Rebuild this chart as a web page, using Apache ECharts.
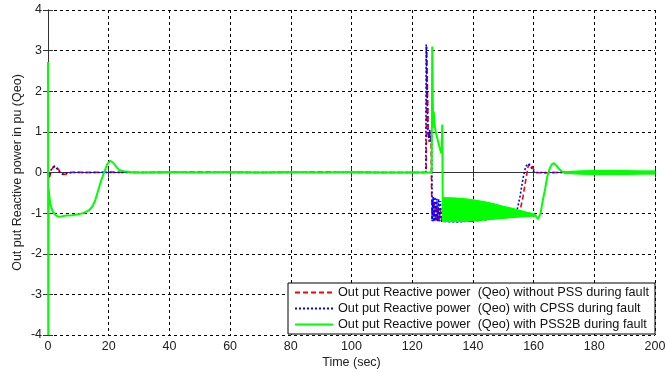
<!DOCTYPE html>
<html>
<head>
<meta charset="utf-8">
<script src="https://cdn.jsdelivr.net/npm/echarts@6/dist/echarts.min.js"></script>
<style>
  html, body { margin: 0; padding: 0; background: #fff; }
  #main { width: 666px; height: 372px; }
</style>
</head>
<body>
<div id="main"></div>
<script>
// [time (s), Qeo (pu)]
var xTicks = [0, 20, 40, 60, 80, 100, 120, 140, 160, 180, 200];
var yTicks = [-4, -3, -2, -1, 0, 1, 2, 3, 4];

var noPssQ = [
    [0, 0], [0.4, -0.15], [1, 0.02], [1.8, 0.15], [2.6, 0.17], [3.4, 0.08], [4.2, 0], [5, -0.05], [6, -0.04],
    [7.5, 0], [9, 0.01], [12, 0], [20, 0.01], [30, 0], [50, 0.01], [70, 0], [90, 0.01], [110, 0], [124.6, 0],
    [124.8, 3.1], [125.2, 3.1], [125.3, 0.9], [125.6, 0.75], [125.9, 1.0], [126.2, 0.8], [126.5, -1.15],
    [126.8, -0.7], [127.1, -1.2], [127.4, -0.75], [127.7, -1.2], [128, -0.8], [128.3, -1.2], [128.6, -0.85],
    [128.9, -1.2], [129.3, -0.9], [129.7, -1.2], [135, -1.2], [140, -1.2], [150, -1.1], [155.5, -0.95],
    [156.5, -0.6], [157.5, -0.15], [158.2, 0.15], [158.8, 0.22], [159.5, 0.15], [160.3, 0.03], [161, 0],
    [163, -0.01], [168, 0], [172, 0.02], [176, -0.02], [180, 0.02], [185, -0.02], [190, 0.02], [195, -0.01], [200, 0]
];

var cpssQ = [
    [0, 0], [0.3, -0.12], [0.9, 0.05], [1.6, 0.13], [2.4, 0.14], [3.2, 0.07], [4, 0], [4.8, -0.04], [6, -0.02],
    [7.5, 0], [30, 0], [60, 0], [90, 0], [124.5, 0],
    [124.6, 3.15], [125.1, 3.15], [125.2, 1.0], [125.5, 0.85], [125.8, 1.05], [126.1, 0.75], [126.4, 0.9],
    [126.6, -1.2], [126.9, -0.6], [127.2, -1.2], [127.5, -0.6], [127.8, -1.2], [128.1, -0.65], [128.4, -1.2],
    [128.7, -0.65], [129, -1.2], [129.3, -0.7], [129.7, -1.2], [135, -1.22], [145, -1.15],
    [152, -1.05], [154.5, -0.95], [155.5, -0.6], [156.5, -0.15], [157.4, 0.15], [158.2, 0.22], [159, 0.15],
    [160, 0.03], [161, 0], [165, 0], [200, 0]
];

var pss2bQ = [
    [0, 2.72], [0.08, -4], [0.2, -0.4], [0.7, -0.75], [1.5, -0.95], [2.5, -1.05], [3.5, -1.09], [4.5, -1.08],
    [6, -1.06], [8, -1.05], [10, -1.03], [12, -0.99], [13.5, -0.93], [14.5, -0.85], [15.5, -0.7], [16.5, -0.45],
    [17.5, -0.2], [18.5, 0], [19.5, 0.2], [20.5, 0.29], [21.5, 0.24], [22.5, 0.14], [23.5, 0.06], [25, 0.03],
    [27, 0.01], [30, 0], [40, 0.01], [50, 0], [60, 0.01], [70, 0], [80, 0.01], [90, 0], [100, 0.01], [110, 0],
    [120, 0], [126.4, 0],
    [126.6, 3.1], [126.9, 1.1], [127.1, 1.5], [127.4, 1.15], [127.9, 0.95], [128.4, 0.8], [128.9, 0.65],
    [129.4, 0.52], [129.7, 0.47], [129.9, 1.18], [130.1, -1.2],
    [160.5, -1.05], [161.5, -1.15], [162.3, -1.0], [163, -0.7], [163.8, -0.4], [164.5, -0.1], [165.3, 0.1],
    [166, 0.2], [166.7, 0.23], [167.5, 0.17], [168.5, 0.08], [169.5, 0.02], [171, -0.02], [173, 0], [200, 0]
];

// envelope of the fast oscillation (PSS2B) during the fault
var faultBandT  = [130.1, 132, 135, 138, 141, 144, 147, 150, 153, 156, 158, 160.5];
var faultBandHi = [-0.62, -0.62, -0.63, -0.65, -0.68, -0.72, -0.77, -0.83, -0.88, -0.94, -0.98, -1.02];
var faultBandLo = [-1.2, -1.21, -1.21, -1.2, -1.19, -1.17, -1.15, -1.13, -1.11, -1.09, -1.08, -1.07];

// envelope of the small ripple after recovery
var rippleT  = [170, 175, 180, 185, 190, 195, 200];
var rippleHi = [0.02, 0.04, 0.05, 0.05, 0.05, 0.04, 0.04];
var rippleLo = [-0.02, -0.04, -0.05, -0.05, -0.05, -0.04, -0.04];

var names = [
    'Out put Reactive power  (Qeo) without PSS during fault',
    'Out put Reactive power  (Qeo) with CPSS during fault',
    'Out put Reactive power  (Qeo) with PSS2B during fault'
];

var GREEN = '#00ff00';

// one polygon per envelope segment
function bandSeries(id, t, hi, lo) {
    var segs = [];
    for (var i = 0; i < t.length - 1; i++) {
        segs.push([t[i], hi[i], lo[i], t[i + 1], hi[i + 1], lo[i + 1]]);
    }
    return {
        name: id, type: 'custom', z: 5,
        data: segs,
        encode: {x: [0, 3], y: [1, 2, 4, 5]},
        renderItem: function (params, api) {
            var a = api.coord([api.value(0), api.value(1)]);
            var b = api.coord([api.value(3), api.value(4)]);
            var c = api.coord([api.value(3), api.value(5)]);
            var d = api.coord([api.value(0), api.value(2)]);
            return {
                type: 'polygon',
                shape: {points: [a, b, c, d]},
                style: {fill: GREEN, stroke: GREEN, lineWidth: 1}
            };
        }
    };
}

var myChart = echarts.init(document.getElementById('main'));

var axisFont = {color: '#222', fontSize: 12.5, fontFamily: 'Liberation Sans, Arial, sans-serif'};

var option = {
    animation: false,
    backgroundColor: '#fff',
    grid: {left: 48, right: 11, top: 10, bottom: 37, outerBoundsMode: 'none', containLabel: false},
    legend: {
        data: names,
        orient: 'vertical',
        right: 11,
        bottom: 38,
        backgroundColor: '#fff',
        borderColor: '#000',
        borderWidth: 1,
        borderRadius: 0,
        padding: [3, 6, 3, 6],
        itemGap: 3,
        itemWidth: 38,
        itemHeight: 14,
        itemStyle: {opacity: 0},
        textStyle: {color: '#111', fontSize: 12.7, fontFamily: 'Liberation Sans, Arial, sans-serif'}
    },
    xAxis: [
        {
            type: 'value', min: 0, max: 200, interval: 20,
            name: 'Time (sec)', nameLocation: 'middle', nameGap: 21, nameMoveOverlap: false,
            nameTextStyle: axisFont,
            axisLine: {lineStyle: {color: '#333'}},
            axisTick: {inside: true, length: 5, lineStyle: {color: '#333'}},
            axisLabel: Object.assign({margin: 5}, axisFont),
            splitLine: {show: true, lineStyle: {color: '#000', type: [3, 3], width: 1}}
        },
        {
            type: 'value', min: 0, max: 200, interval: 20, position: 'top',
            axisLine: {show: true, lineStyle: {color: '#333'}},
            axisTick: {inside: true, length: 5, lineStyle: {color: '#333'}},
            axisLabel: {show: false},
            splitLine: {show: false}
        }
    ],
    yAxis: [
        {
            type: 'value', min: -4, max: 4, interval: 1,
            name: 'Out put Reactive power in pu (Qeo)', nameLocation: 'middle', nameGap: 24, nameMoveOverlap: false,
            nameTextStyle: axisFont,
            axisLine: {show: true, lineStyle: {color: '#333'}},
            axisTick: {show: true, inside: true, length: 5, lineStyle: {color: '#333'}},
            axisLabel: Object.assign({margin: 6}, axisFont),
            splitLine: {show: true, lineStyle: {color: '#000', type: [3, 3], width: 1}}
        },
        {
            type: 'value', min: -4, max: 4, interval: 1, position: 'right',
            axisLine: {show: true, lineStyle: {color: '#333'}},
            axisTick: {show: true, inside: true, length: 5, lineStyle: {color: '#333'}},
            axisLabel: {show: false},
            splitLine: {show: false}
        }
    ],
    series: [
        {
            name: names[0], type: 'line', data: noPssQ, symbol: 'none', z: 2,
            itemStyle: {color: '#ff0000'},
            lineStyle: {color: '#ff0000', width: 1.6, type: [5, 3]}
        },
        {
            name: names[1], type: 'line', data: cpssQ, symbol: 'none', z: 3,
            itemStyle: {color: '#0000ff'},
            lineStyle: {color: '#0000ff', width: 1.6, type: [2, 2]}
        },
        {
            name: names[2], type: 'line', data: pss2bQ, symbol: 'none', z: 4,
            itemStyle: {color: GREEN},
            lineStyle: {color: GREEN, width: 2}
        },
        bandSeries('faultBand', faultBandT, faultBandHi, faultBandLo),
        bandSeries('rippleBand', rippleT, rippleHi, rippleLo)
    ]
};

myChart.setOption(option);
</script>
</body>
</html>
